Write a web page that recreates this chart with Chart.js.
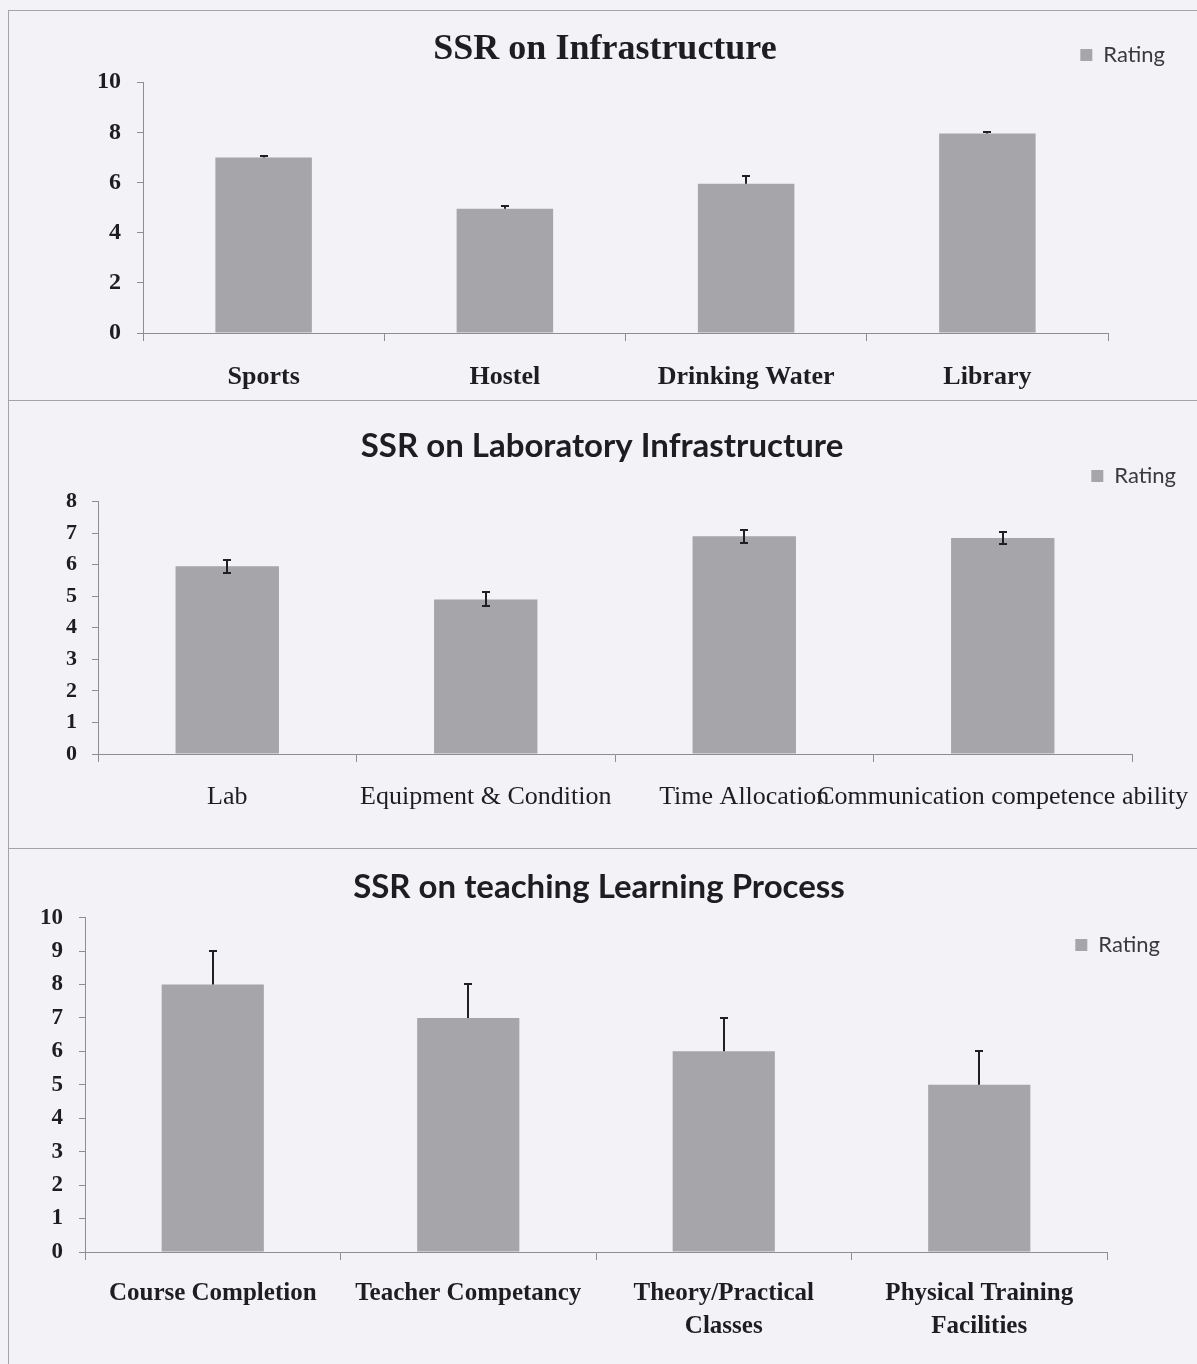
<!DOCTYPE html>
<html>
<head>
<meta charset="utf-8">
<title>SSR ratings</title>
<script src="https://cdn.jsdelivr.net/npm/chart.js@4.4.0/dist/chart.umd.min.js"></script>
<style>
  body { margin: 0; background: #f3f3f7; width: 1197px; height: 1364px; overflow: hidden; position: relative; }
  .panel { position: absolute; left: 0; width: 1197px; }
  .rule { position: absolute; background: #a4a4a8; }
</style>
</head>
<body>
<div class="rule" style="left:8px;top:10px;width:1189px;height:1px"></div>
<div class="rule" style="left:8px;top:10px;width:1px;height:1354px"></div>
<div class="rule" style="left:8px;top:400px;width:1189px;height:1px"></div>
<div class="rule" style="left:8px;top:848px;width:1189px;height:1px"></div>

<div class="panel" style="top:10px;height:390px"><canvas id="infra-chart" width="1197" height="390"></canvas></div>
<div class="panel" style="top:400px;height:448px"><canvas id="lab-chart" width="1197" height="448"></canvas></div>
<div class="panel" style="top:848px;height:516px"><canvas id="teaching-chart" width="1197" height="516"></canvas></div>

<script>
// data
const infraLabels = ['Sports', 'Hostel', 'Drinking Water', 'Library'];
const infraRating = [7.0, 4.95, 5.95, 7.95];
const infraError = [0.04, 0.1, 0.3, 0.08];
const infraTicks = [0, 2, 4, 6, 8, 10];

const labLabels = ['Lab', 'Equipment & Condition', 'Time Allocation', 'Communication competence ability'];
const labRating = [5.95, 4.9, 6.9, 6.85];
const labError = [0.2, 0.22, 0.2, 0.2];
const labTicks = [0, 1, 2, 3, 4, 5, 6, 7, 8];

const teachLabels = ['Course Completion', 'Teacher Competancy', ['Theory/Practical', 'Classes'], ['Physical Training', 'Facilities']];
const teachRating = [8, 7, 6, 5];
const teachError = [1, 1, 1, 1];
const teachTicks = [0, 1, 2, 3, 4, 5, 6, 7, 8, 9, 10];

const BAR = '#a6a6aa';
const AXIS = '#8e8e92';
const INK = '#1e1e22';

// error bars on top of each bar, from dataset.errors
const errorBars = {
    id: 'errorBars',
    afterDatasetsDraw(chart, args, opts) {
        const {ctx} = chart;
        const y = chart.scales.y;
        chart.data.datasets.forEach((ds, i) => {
            if (!ds.errors) return;
            const meta = chart.getDatasetMeta(i);
            ctx.save();
            ctx.strokeStyle = '#202024';
            ctx.lineWidth = 2;
            meta.data.forEach((bar, j) => {
                const v = ds.data[j];
                const e = ds.errors[j];
                const top = Math.round(y.getPixelForValue(v + e));
                const low = opts.plusOnly ? bar.y : Math.round(y.getPixelForValue(v - e));
                const x = Math.round(bar.x);
                ctx.beginPath();
                ctx.moveTo(x, top);
                ctx.lineTo(x, low);
                ctx.moveTo(x - 4, top);
                ctx.lineTo(x + 4, top);
                if (!opts.plusOnly) {
                    ctx.moveTo(x - 4, low);
                    ctx.lineTo(x + 4, low);
                }
                ctx.stroke();
            });
            ctx.restore();
        });
    }
};

// title centred on the whole canvas, legend moved to a fixed spot (it takes no room in the layout)
const boxSpot = {
    id: 'boxSpot',
    afterLayout(chart, args, opts) {
        const t = chart.titleBlock;
        if (t && opts.titleX !== undefined) {
            t.left = opts.titleX - chart.width / 2;
            t.right = opts.titleX + chart.width / 2;
            t.width = chart.width;
        }
        const lg = chart.legend;
        if (lg && opts.legendRight !== undefined) {
            lg.top = opts.legendTop;
            lg.height = 50;
            lg.bottom = lg.top + 50;
            lg.right = opts.legendRight;
            lg.left = opts.legendRight - 250;
            lg.width = 250;
        }
    }
};

Chart.register(errorBars, boxSpot);

function makeChart(el, cfg) {
    return new Chart(document.getElementById(el), {
        type: 'bar',
        data: {
            labels: cfg.labels,
            datasets: [{
                label: 'Rating',
                data: cfg.values,
                errors: cfg.errors,
                backgroundColor: BAR,
                borderWidth: 0,
                barPercentage: 0.4,
                categoryPercentage: 1
            }]
        },
        options: {
            responsive: false,
            animation: false,
            layout: { padding: { left: 0, right: cfg.right, top: 0, bottom: 0 } },
            plugins: {
                title: {
                    display: true,
                    text: cfg.title,
                    color: INK,
                    font: cfg.titleFont,
                    padding: cfg.titlePad
                },
                legend: {
                    position: 'top',
                    align: 'end',
                    maxHeight: 0.001,
                    labels: {
                        boxWidth: 12,
                        boxHeight: 12,
                        color: '#3a3a3e',
                        font: { family: 'Lato', size: 22 }
                    }
                },
                tooltip: { enabled: false },
                errorBars: { plusOnly: cfg.plusOnly },
                boxSpot: cfg.spots
            },
            scales: {
                x: {
                    grid: { display: true, drawOnChartArea: false, drawTicks: true, tickLength: 8, color: AXIS, offset: true },
                    border: { display: true, color: AXIS, width: 1 },
                    ticks: {
                        color: INK,
                        font: cfg.catFont,
                        padding: cfg.catPad,
                        maxRotation: 0,
                        minRotation: 0,
                        autoSkip: false
                    },
                    afterFit: s => { s.height = cfg.xHeight; s.paddingLeft = 0; s.paddingRight = 0; }
                },
                y: {
                    min: 0,
                    max: cfg.ticks[cfg.ticks.length - 1],
                    afterBuildTicks: s => { s.ticks = cfg.ticks.map(v => ({ value: v })); },
                    grid: { display: true, drawOnChartArea: false, drawTicks: true, tickLength: 6, color: AXIS },
                    border: { display: true, color: AXIS, width: 1 },
                    ticks: {
                        color: INK,
                        font: cfg.tickFont,
                        padding: cfg.tickPad
                    },
                    afterFit: s => { s.width = cfg.yWidth; }
                }
            }
        }
    });
}

makeChart('infra-chart', {
    labels: infraLabels, values: infraRating, errors: infraError, ticks: infraTicks,
    title: 'SSR on Infrastructure',
    titleFont: { family: 'Liberation Serif', size: 36, weight: 'bold' },
    titlePad: { top: 18, bottom: 11 },
    catFont: { family: 'Liberation Serif', size: 26, weight: 'bold' },
    catPad: 21,
    tickFont: { family: 'Liberation Serif', size: 24, weight: 'bold' },
    tickPad: 16,
    yWidth: 143, xHeight: 67, right: 89,
    plusOnly: true,
    spots: { titleX: 605, legendTop: 24, legendRight: 1175 }
});

makeChart('lab-chart', {
    labels: labLabels, values: labRating, errors: labError, ticks: labTicks,
    title: 'SSR on Laboratory Infrastructure',
    titleFont: { family: 'Lato', size: 33, weight: 'bold' },
    titlePad: { top: 27, bottom: 35 },
    catFont: { family: 'Liberation Serif', size: 26 },
    catPad: 20,
    tickFont: { family: 'Liberation Serif', size: 22, weight: 'bold' },
    tickPad: 15,
    yWidth: 98, xHeight: 94, right: 65,
    plusOnly: false,
    spots: { titleX: 602, legendTop: 55, legendRight: 1186 }
});

makeChart('teaching-chart', {
    labels: teachLabels, values: teachRating, errors: teachError, ticks: teachTicks,
    title: 'SSR on teaching Learning Process',
    titleFont: { family: 'Lato', size: 33, weight: 'bold' },
    titlePad: { top: 20, bottom: 10 },
    catFont: { family: 'Liberation Serif', size: 25, weight: 'bold', lineHeight: 1.32 },
    catPad: 17,
    tickFont: { family: 'Liberation Serif', size: 23, weight: 'bold' },
    tickPad: 16,
    yWidth: 85, xHeight: 112, right: 90,
    plusOnly: true,
    spots: { titleX: 599, legendTop: 76, legendRight: 1170 }
});
</script>
</body>
</html>
